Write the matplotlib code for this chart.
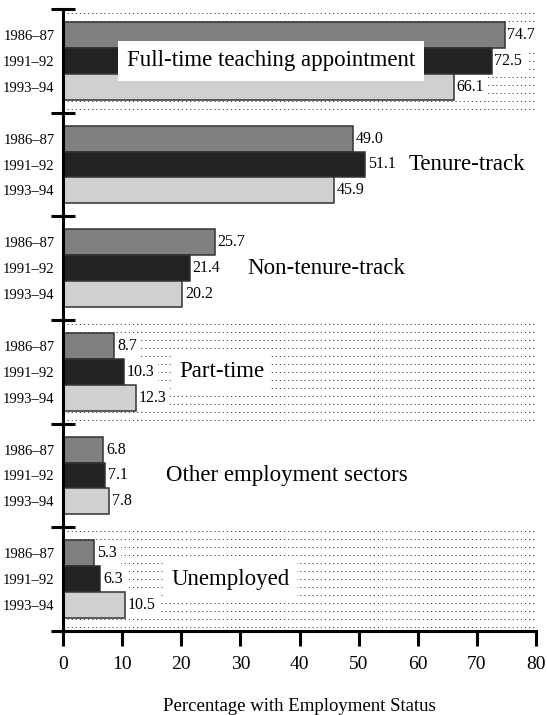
import matplotlib
matplotlib.use("Agg")
import matplotlib.pyplot as plt
import numpy as np

categories = ["Full-time teaching appointment", "Tenure-track", "Non-tenure-track",
              "Part-time", "Other employment sectors", "Unemployed"]
years = ["1986–87", "1991–92", "1993–94"]
v1986 = [74.7, 49.0, 25.7, 8.7, 6.8, 5.3]
v1991 = [72.5, 51.1, 21.4, 10.3, 7.1, 6.3]
v1993 = [66.1, 45.9, 20.2, 12.3, 7.8, 10.5]
dotted_groups = [True, False, False, True, False, True]
label_x = [35.2, 58.5, 31.2, 19.7, 17.5, 18.4]
label_ha = ["center", "left", "left", "left", "left", "left"]

colors = ["#808080", "#222222", "#d0d0d0"]
plt.rcParams['font.family'] = ['Liberation Serif', 'DejaVu Serif']

fig = plt.figure(figsize=(5.47, 7.15), dpi=100)
ax = fig.add_axes([63/547, 1-631/715, (536-63)/547, (631-9)/715])

G = 4.0
series = [v1986, v1991, v1993]
for gi in range(len(categories)):
    base = gi * G
    if dotted_groups[gi]:
        n = 13
        ys = base + (np.arange(n) + 0.5) * G / n
        ax.hlines(ys, 0, 80, colors="#444444", linewidth=0.7,
                  linestyles=(0, (1.2, 3.0)), zorder=1)
    for si, vals in enumerate(series):
        y = base + 1 + si
        ax.barh(y, vals[gi], height=1.0, color=colors[si], edgecolor="#333333",
                linewidth=1.1, zorder=2)
        ax.annotate(f"{vals[gi]:.1f}", (vals[gi], y), xytext=(2, 0),
                    textcoords="offset points", ha="left", va="center",
                    fontsize=11.5, zorder=1.5,
                    bbox=dict(boxstyle="square,pad=0.25", fc="white", ec="none"))
    pad = 0.4 if gi == 0 else 0.3
    ax.text(label_x[gi], base + G / 2, categories[gi], ha=label_ha[gi], va="center",
            fontsize=16.5, zorder=5,
            bbox=dict(boxstyle=f"square,pad={pad}", fc="white", ec="none"))

ax.set_xlim(0, 80)
ax.set_ylim(len(categories) * G, 0)

ax.set_xticks(np.arange(0, 81, 10))
ax.tick_params(axis="x", direction="out", length=11, width=2.2, labelsize=14, pad=7)

ax.set_yticks(np.arange(0, len(categories) * G + 0.1, G))
ax.set_yticklabels([])
ax.tick_params(axis="y", which="major", direction="inout", length=17, width=2.2)
minor_pos = [gi * G + 1 + si for gi in range(len(categories)) for si in range(3)]
ax.set_yticks(minor_pos, minor=True)
ax.set_yticklabels(years * len(categories), minor=True)
ax.tick_params(axis="y", which="minor", length=0, labelsize=10.5, pad=6)

for s in ["top", "right"]:
    ax.spines[s].set_visible(False)
ax.spines["left"].set_linewidth(2.2)
ax.spines["bottom"].set_linewidth(2.2)

ax.set_xlabel("Percentage with Employment Status", fontsize=13.5, labelpad=18)

fig.savefig("out.png", dpi=100)
